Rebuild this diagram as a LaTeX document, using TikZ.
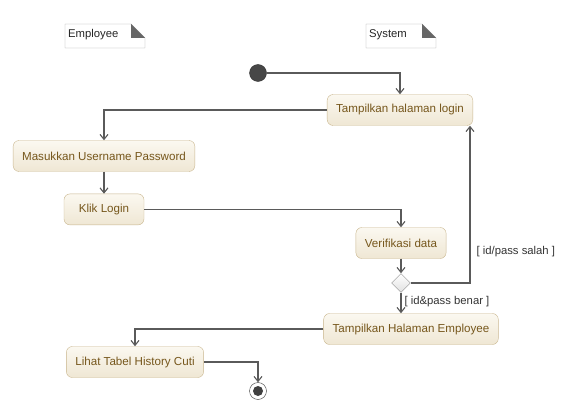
\documentclass[tikz,border=0pt]{standalone}
\usepackage{fontspec}
\setmainfont{Liberation Sans}
\usetikzlibrary{positioning, arrows.meta, shapes.geometric}
\definecolor{actfill}{HTML}{FBF8F0}
\definecolor{actshade}{HTML}{EFE7D4}
\definecolor{actdraw}{HTML}{C9B68E}
\definecolor{acttext}{HTML}{76571C}
\definecolor{flow}{HTML}{5A5A5A}

\begin{document}
\begin{tikzpicture}
			[x=1pt, y=-1pt,
			action/.style={rectangle, rounded corners=6pt, draw=actdraw, top color=actfill, bottom color=actshade,
				text=acttext, minimum height=31pt, minimum width=80pt, inner xsep=9pt, font=\fontsize{11.6}{13}\selectfont},
			flowline/.style={draw=flow, line width=1.1pt, -{Straight Barb[length=5pt, width=8pt]}},
			guard/.style={text=black!80, font=\fontsize{11.3}{13}\selectfont, inner sep=1pt},
			notebox/.style={draw=black!35, fill=white},
			notetext/.style={font=\fontsize{11.3}{13}\selectfont, text=black!85, inner sep=0pt, anchor=west}]
			\useasboundingbox (0,0) rectangle (565,409);
			% notes
			\path[notebox] (65,24) -- (131,24) -- (145,38) -- (145,48) -- (65,48) -- cycle;
			\fill[black!60] (131,24) -- (145,38) -- (131,38) -- cycle;
			\node[notetext] (empnote) at (68,35) {Employee};
			\path[notebox] (366,24) -- (422,24) -- (436,38) -- (436,48) -- (366,48) -- cycle;
			\fill[black!60] (422,24) -- (436,38) -- (422,38) -- cycle;
			\node[notetext] (sysnote) at (369,35) {System};
			% activities
			\node[circle, fill=black!72, draw=black!80, minimum size=17pt, inner sep=0pt] (start) at (258,73) {};
			\node[action] (tampil) at (400,110) {Tampilkan halaman login};
			\node[action] (masuk) at (104,156) {Masukkan Username Password};
			\node[action] (klik) [below = 22pt of masuk] {Klik Login};
			\node[action] (verif) at (401,243) {Verifikasi data};
			\node[diamond, draw=black!45, top color=white, bottom color=black!12, minimum size=19pt, inner sep=0pt] (cek) at (401,283) {};
			\node[action] (tampilemp) at (411,329) {Tampilkan Halaman Employee};
			\node[action] (lihat) at (135,362) {Lihat Tabel History Cuti};
			\node[circle, draw=black!75, fill=white, minimum size=17pt, inner sep=0pt] (stop) at (258,391) {};
			\node[circle, fill=black!75, minimum size=10pt, inner sep=0pt] (stopdot) at (stop) {};
			\coordinate (salah) at (470,0);
			% flows
			\draw[flowline] (start) -| (tampil);
			\draw[flowline] (tampil.west) -| (masuk);
			\draw[flowline] (masuk) -- (klik);
			\draw[flowline] (klik) -| (verif);
			\draw[flowline] (verif) -- (cek);
			\draw[flowline] (cek.east) -| (tampil.south -| salah)
			node[guard, pos=0.6, right=5pt] {[ id/pass salah ]};
			\draw[flowline] (cek.south) -- (cek.south |- tampilemp.north)
			node[guard, pos=0.45, right=2pt] {[ id\&pass benar ]};
			\draw[flowline] (tampilemp.west) -| (lihat);
			\draw[flowline] (lihat.east) -| (stop);
		\end{tikzpicture}
\end{document}
